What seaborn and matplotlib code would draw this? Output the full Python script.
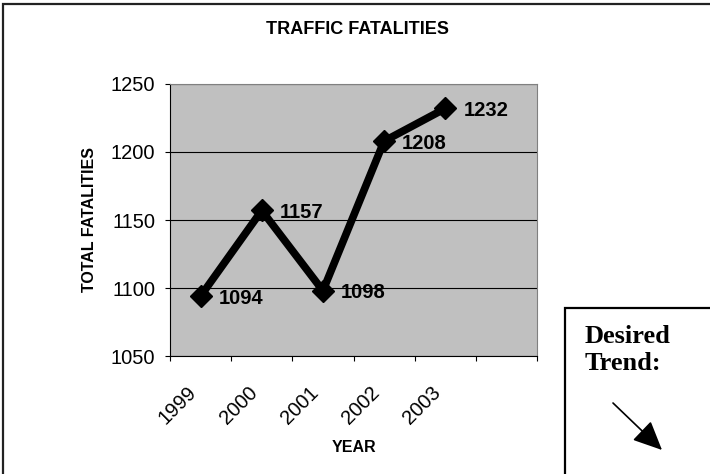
import matplotlib
matplotlib.use("Agg")
import matplotlib.pyplot as plt
import matplotlib.transforms as mtransforms
from matplotlib.patches import Rectangle, FancyArrowPatch
import pandas as pd
import seaborn as sns

years = ["1999", "2000", "2001", "2002", "2003"]
fatalities = [1094, 1157, 1098, 1208, 1232]
y_ticks = [1050, 1100, 1150, 1200, 1250]

df = pd.DataFrame({"Year": years, "Fatalities": fatalities})

sns.set_style("white")
plt.rcParams["font.family"] = ["Liberation Sans", "DejaVu Sans"]
plt.rcParams["text.color"] = "black"
plt.rcParams["axes.labelcolor"] = "black"
plt.rcParams["xtick.color"] = "black"
plt.rcParams["ytick.color"] = "black"

W, H = 710, 474
fig = plt.figure(figsize=(W / 100, H / 100), dpi=100)

# plot area placed like the Excel chart
ax = fig.add_axes([170 / W, 1 - 356 / H, 367 / W, 272 / H])
ax.set_facecolor("#C0C0C0")

sns.lineplot(data=df, x="Year", y="Fatalities", sort=False, ax=ax,
             color="black", linewidth=5.5, marker="D", markersize=11,
             markeredgecolor="black", markeredgewidth=1)

# data labels
for i, v in enumerate(fatalities):
    ax.annotate(str(v), (i, v), xytext=(13, 0), textcoords="offset points",
                ha="left", va="center_baseline", fontsize=14.5,
                fontweight="bold", color="black")

ax.set_ylim(y_ticks[0], y_ticks[-1])
ax.set_yticks(y_ticks)
ax.yaxis.grid(True, color="black", linewidth=0.8)
ax.set_axisbelow(True)

# six category slots, last one empty
ax.set_xlim(-0.5, len(years) + 0.5)
ax.set_xticks(range(len(years)))
ax.set_xticklabels(years)
ax.set_xticks([i - 0.5 for i in range(len(years) + 2)], minor=True)
ax.tick_params(axis="x", which="major", length=0, pad=23, labelsize=14.5,
               labelcolor="black")
ax.tick_params(axis="x", which="minor", length=3.6, width=0.8, color="black",
               direction="out", bottom=True)
ax.tick_params(axis="y", length=3.6, width=0.8, color="black", direction="out",
               pad=7, labelsize=14.5, left=True, labelcolor="black")
shift = mtransforms.ScaledTranslation(-9 / 100, 0, fig.dpi_scale_trans)
for lab in ax.get_xticklabels():
    lab.set_rotation(45)
    lab.set_rotation_mode("anchor")
    lab.set_ha("right")
    lab.set_va("center_baseline")
    lab.set_transform(lab.get_transform() + shift)

for side in ["left", "bottom"]:
    ax.spines[side].set_color("black")
    ax.spines[side].set_linewidth(0.8)
for side in ["top", "right"]:
    ax.spines[side].set_color("#808080")
    ax.spines[side].set_linewidth(0.8)

ax.set_xlabel("YEAR", fontsize=11.5, fontweight="bold", va="center",
              color="black")
ax.xaxis.set_label_coords(0.5, (356 - 447) / 272)
ax.set_ylabel("TOTAL FATALITIES", fontsize=11.5, fontweight="bold",
              va="center", color="black")
ax.yaxis.set_label_coords((89 - 170) / 367, 0.5)

fig.suptitle("TRAFFIC FATALITIES", x=357 / W, y=1 - 30 / H, va="center",
             fontsize=13, fontweight="bold", color="black")

# outer chart border (runs off the right and bottom edges)
fig.add_artist(Rectangle((3 / W, -0.02), 1.05, 1 - 4 / H + 0.02,
                         transform=fig.transFigure, fill=False,
                         edgecolor="#222222", linewidth=1.6))

# "Desired Trend" box
fig.add_artist(Rectangle((565 / W, -0.02), 0.3, 1 - 308 / H + 0.02,
                         transform=fig.transFigure, fill=False,
                         edgecolor="black", linewidth=1.6))
fig.text(585 / W, 1 - 343 / H, "Desired", family="Liberation Serif",
         fontweight="bold", fontsize=19, va="baseline", ha="left")
fig.text(585 / W, 1 - 370 / H, "Trend:", family="Liberation Serif",
         fontweight="bold", fontsize=19, va="baseline", ha="left")
fig.add_artist(FancyArrowPatch((613 / W, 1 - 403 / H), (662 / W, 1 - 450 / H),
                               transform=fig.transFigure,
                               arrowstyle="-|>,head_length=1.2,head_width=0.55",
                               mutation_scale=15, color="black", linewidth=1.2,
                               shrinkA=0, shrinkB=0))

fig.savefig("out.png", dpi=100)
